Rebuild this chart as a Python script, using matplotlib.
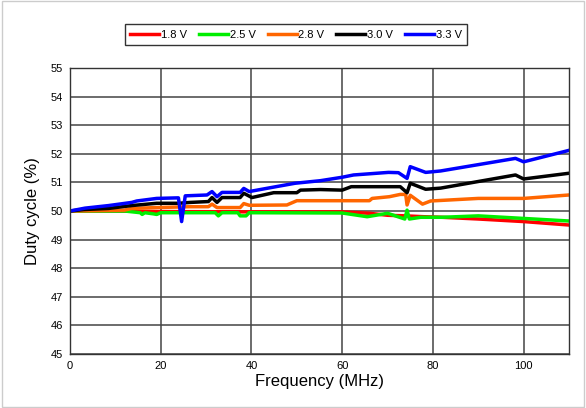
import matplotlib
matplotlib.use("Agg")
import matplotlib.pyplot as plt
from matplotlib.patches import Rectangle

plt.rcParams['font.family'] = ['Liberation Sans', 'DejaVu Sans']

# ---- data ----
f_18 = [0, 10, 20, 40, 60, 66, 70, 74, 78, 82, 90, 100, 110]
v_18 = [50.0, 50.0, 49.98, 49.97, 49.97, 49.92, 49.85, 49.83, 49.8, 49.78, 49.72, 49.63, 49.51]

f_25 = [0, 12, 15.5, 15.9, 16.5, 18.4, 19.1, 20, 32, 32.7, 33.5, 37, 37.5, 38.8, 39.5, 60, 65.5, 70, 73.8, 74.3, 74.8, 77.3, 82, 90, 100, 110]
v_25 = [50.0, 50.0, 49.94, 49.88, 49.94, 49.9, 49.88, 49.94, 49.94, 49.83, 49.94, 49.94, 49.83, 49.83, 49.94, 49.93, 49.8, 49.92, 49.72, 50.03, 49.72, 49.78, 49.78, 49.83, 49.74, 49.65]

f_28 = [0, 12, 13.6, 19, 26.5, 30.5, 31.3, 32.4, 37.5, 38.3, 39.5, 47.8, 50, 66, 66.6, 70.4, 72.8, 74, 74.3, 75, 77.7, 79.5, 90, 100, 110]
v_28 = [50.0, 50.03, 50.09, 50.12, 50.15, 50.15, 50.24, 50.12, 50.12, 50.26, 50.2, 50.21, 50.36, 50.36, 50.44, 50.5, 50.58, 50.58, 50.21, 50.55, 50.24, 50.35, 50.44, 50.44, 50.56]

f_30 = [0, 3, 8.5, 13.6, 19.1, 23.9, 26.5, 30.5, 31.3, 32.4, 33.5, 37.5, 38.3, 40.1, 44.9, 50, 50.8, 55.2, 60, 62, 72.8, 74.3, 75, 78.4, 81.7, 98.2, 100, 110]
v_30 = [50.0, 50.05, 50.09, 50.19, 50.27, 50.27, 50.3, 50.33, 50.47, 50.3, 50.47, 50.47, 50.62, 50.47, 50.64, 50.64, 50.73, 50.75, 50.73, 50.85, 50.85, 50.64, 50.97, 50.76, 50.8, 51.26, 51.12, 51.32]

f_33 = [0, 3.3, 8.5, 13.6, 14.7, 19.1, 23.9, 24.6, 25.4, 30.2, 31.3, 32.4, 33.5, 37.5, 38.3, 39.5, 44, 49.6, 55.2, 60, 62.5, 70.2, 72.4, 74.3, 75, 78.4, 81.7, 98.2, 100, 110]
v_33 = [50.0, 50.1, 50.19, 50.3, 50.35, 50.44, 50.46, 49.63, 50.53, 50.56, 50.68, 50.5, 50.65, 50.65, 50.79, 50.68, 50.81, 50.97, 51.06, 51.18, 51.26, 51.35, 51.34, 51.14, 51.55, 51.35, 51.4, 51.84, 51.72, 52.12]

labels = ['1.8 V', '2.5 V', '2.8 V', '3.0 V', '3.3 V']
colors = ['#ff0000', '#00ee00', '#ff6600', '#000000', '#0000ff']
x_ticks = [0, 20, 40, 60, 80, 100]
y_ticks = list(range(45, 56))

fig = plt.figure(figsize=(5.86, 4.08), dpi=100)
fig.patches.append(Rectangle((0.003, 0.003), 0.994, 0.994, transform=fig.transFigure,
                             fill=False, edgecolor='#cccccc', linewidth=1, zorder=0))

ax = fig.add_axes([0.1195, 0.1324, 0.8515, 0.7009])

series = [(f_18, v_18), (f_25, v_25), (f_28, v_28), (f_30, v_30), (f_33, v_33)]
for (fx, vy), lab, c in zip(series, labels, colors):
    ax.plot(fx, vy, color=c, lw=2.5, label=lab, solid_joinstyle='round')

ax.set_xlim(0, 110)
ax.set_ylim(45, 55)
ax.set_xticks(x_ticks)
ax.set_yticks(y_ticks)
ax.grid(True, color='#444444', lw=1.1)
ax.set_axisbelow(True)
ax.tick_params(labelsize=8, length=0, pad=5)
for s in ax.spines.values():
    s.set_color('#333333')
    s.set_linewidth(1)
ax.set_xlabel('Frequency (MHz)', fontsize=12, labelpad=2)
ax.set_ylabel('Duty cycle (%)', fontsize=12, labelpad=8)

leg = fig.legend(loc='center', bbox_to_anchor=(0.505, 0.915), ncol=5, fontsize=8,
                 frameon=True, fancybox=False, edgecolor='#000000', handlelength=2.6,
                 handletextpad=0.15, columnspacing=1.1, borderpad=0.5)
leg.get_frame().set_linewidth(1)

fig.savefig('out.png', dpi=100)
